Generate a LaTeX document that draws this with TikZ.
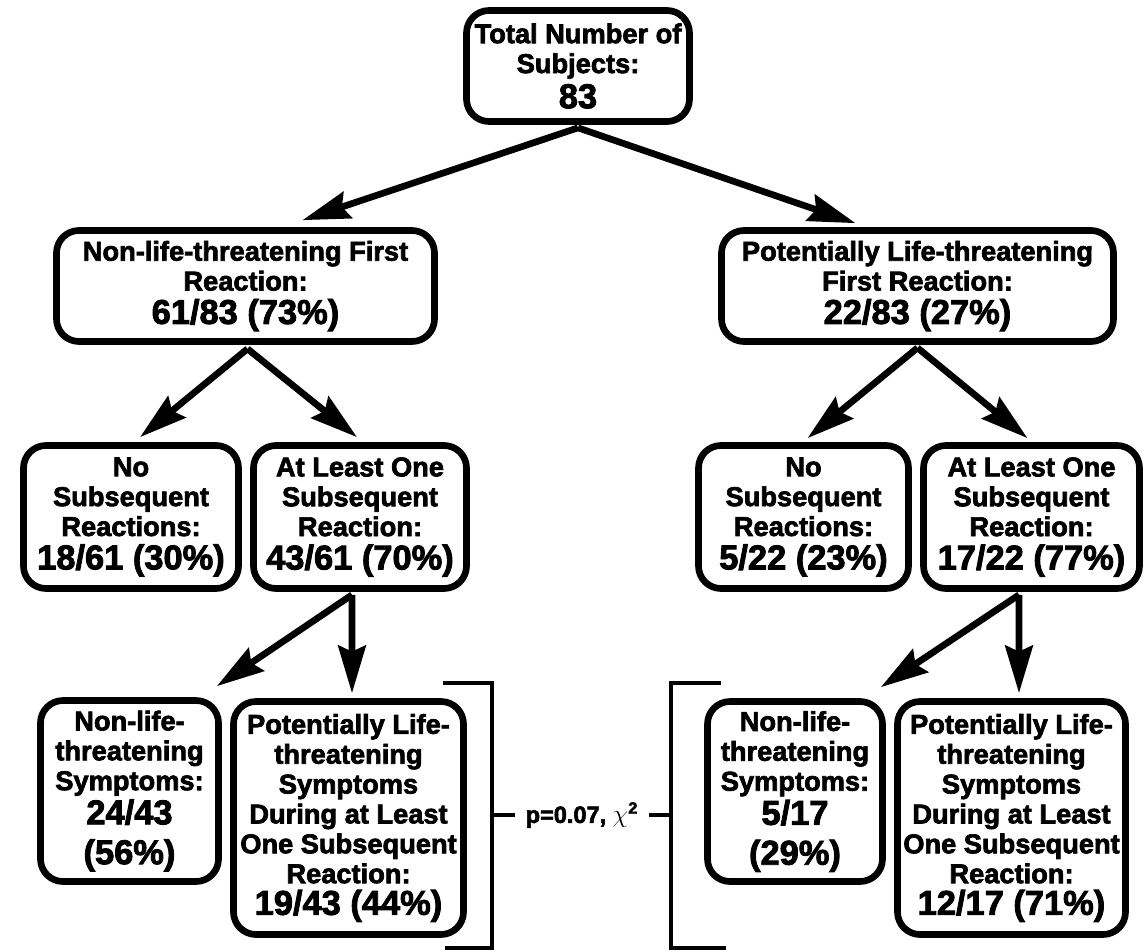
\documentclass[tikz,border=0pt]{standalone}
\usepackage{fontspec}
\setmainfont{Liberation Sans}[BoldFeatures={FakeBold=2.5}]
\usetikzlibrary{arrows.meta}
\newcommand\boxtxt{\fontsize{15.5pt}{17pt}\selectfont\bfseries}
\newcommand\boxnum{\fontsize{19.6pt}{22.7pt}\selectfont\bfseries}
\begin{document}
\begin{tikzpicture}[x=0.2mm,y=-0.2mm,
  box/.style={draw,line width=3.8pt,rounded corners=0.45cm,align=center,inner sep=0pt,font=\boxtxt},
  arr/.style={line width=3.8pt,-{Stealth[length=0.95cm,width=0.55cm,inset=0.12cm]}},
  brace/.style={line width=1.8pt}]
\useasboundingbox (0,0) rectangle (1146,951);
\node[box,minimum width=4.46cm,minimum height=2.22cm] (tot) at (578,66)
  {Total Number of\\Subjects:\\[3pt]\boxnum 83};
\node[box,minimum width=7.56cm,minimum height=2.22cm] (nlf) at (245.5,286)
  {Non-life-threatening First\\Reaction:\\[2pt]\boxnum 61/83 (73\%)};
\node[box,minimum width=7.84cm,minimum height=2.22cm] (plf) at (917.5,286)
  {Potentially Life-threatening\\First Reaction:\\[2pt]\boxnum 22/83 (27\%)};
\node[box,minimum width=4.3cm,minimum height=2.86cm] (nsl) at (131,517)
  {No\\Subsequent\\Reactions:\\[2pt]\boxnum 18/61 (30\%)};
\node[box,minimum width=4.26cm,minimum height=2.86cm] (asl) at (360,517)
  {At Least One\\Subsequent\\Reaction:\\[2pt]\boxnum 43/61 (70\%)};
\node[box,minimum width=4.2cm,minimum height=2.86cm] (nsr) at (803.5,517)
  {No\\Subsequent\\Reactions:\\[2pt]\boxnum 5/22 (23\%)};
\node[box,minimum width=4.32cm,minimum height=2.86cm] (asr) at (1031.5,517)
  {At Least One\\Subsequent\\Reaction:\\[2pt]\boxnum 17/22 (77\%)};
\node[box,minimum width=3.56cm,minimum height=3.62cm] (nfl) at (129.5,791)
  {Non-life-\\threatening\\Symptoms:\\[1pt]\boxnum 24/43\\[5.7pt]\boxnum (56\%)};
\node[box,minimum width=4.6cm,minimum height=4.66cm] (pfl) at (348.5,818)
  {Potentially Life-\\threatening\\Symptoms\\During at Least\\One Subsequent\\Reaction:\\[1pt]\boxnum 19/43 (44\%)};
\node[box,minimum width=3.5cm,minimum height=3.6cm] (nfr) at (795,791.5)
  {Non-life-\\threatening\\Symptoms:\\[1pt]\boxnum 5/17\\[5.7pt]\boxnum (29\%)};
\node[box,minimum width=4.56cm,minimum height=4.66cm] (pfr) at (1011.5,818)
  {Potentially Life-\\threatening\\Symptoms\\During at Least\\One Subsequent\\Reaction:\\[1pt]\boxnum 12/17 (71\%)};
\draw[arr] ([shift={(0,3)}]tot.south) -- ([shift={(57,-7)}]nlf.north);
\draw[arr] ([shift={(0,3)}]tot.south) -- ([shift={(-62,-4)}]plf.north);
\draw[arr] ([shift={(2,4)}]nlf.south) -- ([shift={(9,-5)}]nsl.north);
\draw[arr] ([shift={(2,4)}]nlf.south) -- ([shift={(-3,-5)}]asl.north);
\draw[arr] ([shift={(0,3)}]plf.south) -- ([shift={(4,-4)}]nsr.north);
\draw[arr] ([shift={(0,3)}]plf.south) -- ([shift={(-4,-4)}]asr.north);
\draw[arr] ([shift={(-8,3)}]asl.south) -- ([shift={(-5,-11)}]nfl.north east);
\draw[arr] ([shift={(-8,3)}]asl.south) -- ([shift={(3.5,-5)}]pfl.north);
\draw[arr] ([shift={(-12.5,3)}]asr.south) -- ([shift={(-5,-11)}]nfr.north east);
\draw[arr] ([shift={(-12.5,3)}]asr.south) -- ([shift={(7.5,-5)}]pfr.north);
\node[inner xsep=0.2cm,inner ysep=0pt,font=\fontsize{13.4pt}{15pt}\selectfont\bfseries] (pval) at (582,815)
  {p=0.07, $\chi$\textsuperscript{2}};
\coordinate (bl) at (492,815);
\coordinate (br) at (671,815);
\draw[brace] (443,683) -| (bl) |- (445,948);
\draw[brace] (721,683) -| (br) |- (726,948);
\draw[brace] (pval.west) -- (bl);
\draw[brace] (pval.east) -- (br);
\end{tikzpicture}
\end{document}
